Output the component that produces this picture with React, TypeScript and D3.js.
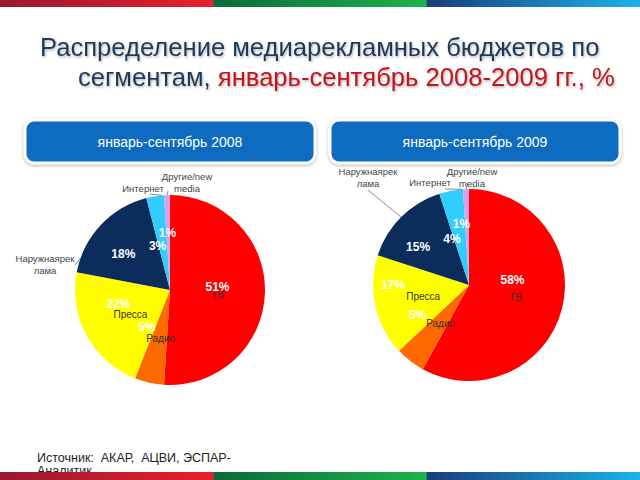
import React from "react";
import * as d3 from "d3";

// media segments, slice order clockwise from 12 o'clock
const categories = ["ТВ", "Радио", "Пресса", "Наружнаярек лама", "Интернет", "Другие/new media"];
const values2008 = [51, 5, 22, 18, 3, 1];
const values2009 = [58, 5, 17, 15, 4, 1];
const periods = ["январь-сентябрь 2008", "январь-сентябрь 2009"];
const titleLine1 = "Распределение медиарекламных бюджетов по";
const titleLine2a = "сегментам, ";
const titleLine2b = "январь-сентябрь 2008-2009 гг., %";
const sourceLines = ["Источник:  АКАР,  АЦВИ, ЭСПАР-", "Аналитик"];

const W = 640;
const H = 480;
const FONT = "'Liberation Sans', Arial, sans-serif";

const colors = ["#ff0000", "#ff6a00", "#ffff00", "#0c2d5c", "#33ccff", "#d9a0ee"];
const darkColors = ["#b00000", "#d84c00", "#d6d600", "#06193a", "#1aa0d8", "#b07ad0"];

// layout of each pie: centre, radius, nudges of the % labels, outer labels
const pies = [
  {
    values: values2008,
    cx: 170,
    cy: 290,
    r: 95,
    box: { x: 25, y: 120, w: 290, h: 43 },
    pctNudge: [[0, -5], [-13, -9], [-10, -9], [-12, -3], [-5, 3], [-1, -10]],
    catNudge: [[0, 3], [1, 2], [2, 2]],
    outer: {
      3: { dx: -125, dy: -32, lead: [30, 7], t: 0.14 },
      4: { dx: -27, dy: -102, lead: [7, 6], t: 0.87 },
      5: { dx: 17, dy: -114, lead: [-19, 15], t: 0.5 },
    },
  },
  {
    values: values2009,
    cx: 469,
    cy: 285,
    r: 96,
    box: { x: 330, y: 120, w: 290, h: 43 },
    pctNudge: [[-3, -17], [-22, -8], [-29, -10], [-17, -4], [-8, 1], [-6, -13]],
    catNudge: [[0, 1], [1, 1], [1, 1]],
    outer: {
      3: { dx: -101, dy: -114, lead: [0, 19], t: 0.5 },
      4: { dx: -39, dy: -103, lead: [15, 7], t: 0.95 },
      5: { dx: 3, dy: -114, lead: [-4, 12], t: 0.5 },
    },
  },
];

const barStops = [
  ["#9a1830", "#e8202a"],
  ["#0b6a3a", "#1db34b"],
  ["#1a3c7c", "#1ab4ea"],
];

function polar(a: number, rho: number) {
  return [rho * Math.sin(a), -rho * Math.cos(a)];
}

function StripeBar({ y, h, id }: { y: number; h: number; id: string }) {
  const x = d3.scaleBand().domain(["0", "1", "2"]).range([0, W]);
  return (
    <g>
      {barStops.map((s, i) => (
        <g key={i}>
          <defs>
            <linearGradient id={`${id}${i}`} x1="0" x2="1" y1="0" y2="0">
              <stop offset="0" stopColor={s[0]} />
              <stop offset="1" stopColor={s[1]} />
            </linearGradient>
          </defs>
          <rect x={x(String(i))} y={y} width={x.bandwidth() + 0.5} height={h} fill={`url(#${id}${i})`} />
        </g>
      ))}
    </g>
  );
}

function Pie({ p, k }: { p: (typeof pies)[number]; k: number }) {
  const pie = d3.pie<number>().sort(null).value((d) => d);
  const arcs = pie(p.values);
  const arc = d3.arc<d3.PieArcDatum<number>>().innerRadius(0).outerRadius(p.r);
  const mid = d3.arc<d3.PieArcDatum<number>>().innerRadius(p.r * 0.5).outerRadius(p.r * 0.5);

  return (
    <g>
      <defs>
        {colors.map((c, i) => (
          <linearGradient
            key={i}
            id={`g${k}_${i}`}
            gradientUnits="userSpaceOnUse"
            x1={p.cx + p.r * 0.4}
            y1={p.cy - p.r}
            x2={p.cx - p.r * 0.4}
            y2={p.cy + p.r}
          >
            <stop offset="0" stopColor={c} />
            <stop offset="0.5" stopColor={c} />
            <stop offset="1" stopColor={darkColors[i]} />
          </linearGradient>
        ))}
      </defs>
      <g transform={`translate(${p.cx},${p.cy})`}>
        {arcs.map((a, i) => (
          <path key={i} d={arc(a) || ""} fill={`url(#g${k}_${i})`} />
        ))}
        {arcs.map((a, i) => {
          const [mx, my] = mid.centroid(a);
          const [nx, ny] = p.pctNudge[i];
          const o = (p.outer as any)[i];
          let cat = null;
          if (!o) {
            const [cx2, cy2] = p.catNudge[i];
            cat = (
              <text
                x={mx + cx2}
                y={my + cy2}
                textAnchor="middle"
                dominantBaseline="central"
                fontSize={10}
                fill="#333"
                fontFamily={FONT}
              >
                {categories[i]}
              </text>
            );
          } else {
            const lines = categories[i].split(" ");
            const ang = a.startAngle + (a.endAngle - a.startAngle) * o.t;
            const [ex, ey] = polar(ang, p.r);
            cat = (
              <g>
                <line
                  x1={o.dx + o.lead[0]}
                  y1={o.dy + o.lead[1]}
                  x2={ex}
                  y2={ey}
                  stroke="#555"
                  strokeWidth={0.7}
                />
                {lines.map((ln, j) => (
                  <text
                    key={j}
                    x={o.dx}
                    y={o.dy + j * 12}
                    textAnchor="middle"
                    dominantBaseline="central"
                    fontSize={9.5}
                    fill="#444"
                    fontFamily={FONT}
                  >
                    {ln}
                  </text>
                ))}
              </g>
            );
          }
          return (
            <g key={i}>
              {cat}
              <text
                x={mx + nx}
                y={my + ny}
                textAnchor="middle"
                dominantBaseline="central"
                fontSize={12}
                fontWeight="bold"
                fill="#fff"
                fontFamily={FONT}
              >
                {p.values[i]}%
              </text>
            </g>
          );
        })}
      </g>
    </g>
  );
}

export default function App() {
  return (
    <svg
      width={W}
      height={H}
      viewBox={`0 0 ${W} ${H}`}
      style={{ position: "fixed", left: 0, top: 0, background: "#fff" }}
    >
      <defs>
        <filter id="tshadow" x="-5%" y="-20%" width="110%" height="150%">
          <feDropShadow dx="1" dy="1.5" stdDeviation="1" floodColor="#000" floodOpacity="0.3" />
        </filter>
        <filter id="bshadow" x="-5%" y="-20%" width="110%" height="150%">
          <feDropShadow dx="0" dy="1" stdDeviation="1.5" floodColor="#000" floodOpacity="0.35" />
        </filter>
      </defs>
      <rect width={W} height={H} fill="#fff" />
      <StripeBar y={0} h={7} id="top" />

      <g fontFamily={FONT} filter="url(#tshadow)" fontSize={25.6}>
        <text x={40} y={56} fill="#1f3a5c">
          {titleLine1}
        </text>
        <text x={78} y={86} fill="#1f3a5c">
          {titleLine2a}
          <tspan fill="#c0141c">{titleLine2b}</tspan>
        </text>
      </g>

      {pies.map((p, k) => (
        <g key={k}>
          <rect
            x={p.box.x}
            y={p.box.y}
            width={p.box.w}
            height={p.box.h}
            rx={9}
            fill="#0a6cc0"
            stroke="#fff"
            strokeWidth={3}
            filter="url(#bshadow)"
          />
          <text
            x={p.box.x + p.box.w / 2}
            y={p.box.y + p.box.h / 2}
            textAnchor="middle"
            dominantBaseline="central"
            fill="#fff"
            fontSize={14}
            fontFamily={FONT}
          >
            {periods[k]}
          </text>
          <Pie p={p} k={k} />
        </g>
      ))}

      <g fontFamily={FONT} fontSize={12.5} fill="#222">
        {sourceLines.map((s, i) => (
          <text key={i} x={37} y={462 + i * 13} xmlSpace="preserve" style={{ whiteSpace: "pre" }}>
            {s}
          </text>
        ))}
      </g>
      <StripeBar y={472} h={8} id="bot" />
    </svg>
  );
}
